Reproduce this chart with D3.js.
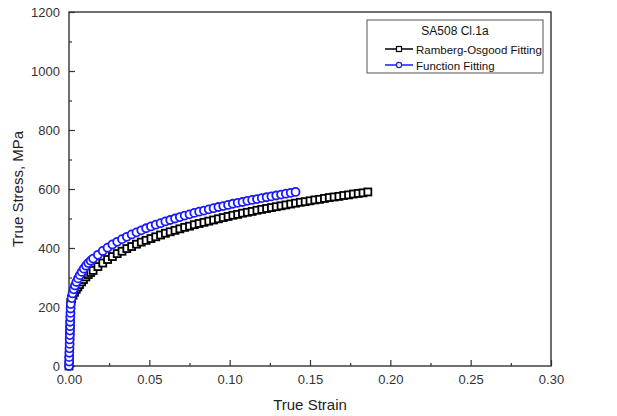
<!DOCTYPE html>
<html>
<head>
<meta charset="utf-8">
<script src="https://cdn.jsdelivr.net/npm/d3@7"></script>
<style>
  body { margin: 0; background: #fff; }
  text { font-family: "Liberation Sans", Arial, sans-serif; }
</style>
</head>
<body>
<script>
// Ramberg-Osgood fitting (black squares)
var roStrain = [0, 0.0001, 0.0002, 0.0003, 0.0004, 0.0005, 0.0006, 0.0007, 0.0008, 0.0009, 0.0010, 0.0011,
  0.0016, 0.0025, 0.0035, 0.0045, 0.0055, 0.0065, 0.0078, 0.009, 0.0105, 0.012, 0.0135, 0.015,
  0.018, 0.021, 0.024, 0.027, 0.030, 0.033, 0.036, 0.039, 0.042, 0.045, 0.048, 0.051, 0.054, 0.057,
  0.060, 0.063, 0.066, 0.069, 0.072, 0.075, 0.078, 0.081, 0.084, 0.087, 0.090, 0.093, 0.096, 0.099,
  0.102, 0.105, 0.108, 0.111, 0.114, 0.117, 0.120, 0.123, 0.126, 0.129, 0.132, 0.135, 0.138, 0.141,
  0.144, 0.147, 0.150, 0.153, 0.156, 0.159, 0.162, 0.165, 0.168, 0.171, 0.174, 0.177, 0.180, 0.183, 0.186];
var roStress = [0, 20, 40, 60, 80, 100, 120, 140, 160, 180, 200, 215,
  228, 240, 250, 260, 268, 276, 285, 293, 302, 310, 317, 324,
  337, 349, 361, 371, 381, 389, 398, 405, 413, 420, 426, 432, 438, 444,
  450, 455, 460, 465, 470, 474, 479, 483, 487, 491, 495, 499, 503, 507,
  511, 514, 518, 521, 524, 528, 531, 534, 537, 540, 543, 546, 549, 552,
  555, 557, 560, 563, 565, 568, 571, 573, 575, 578, 580, 583, 585, 587, 590];

// Function fitting (blue circles)
var fnStrain = [0, 0.0001, 0.0001, 0.0002, 0.0003, 0.0004, 0.0004, 0.0005, 0.0006, 0.0007, 0.0007, 0.0008, 0.0009, 0.0010, 0.0011,
  0.0016, 0.0022, 0.0029, 0.0037, 0.0046, 0.0056, 0.0067, 0.0079, 0.0092, 0.0106, 0.012, 0.0135, 0.015,
  0.018, 0.021, 0.024, 0.027, 0.030, 0.033, 0.036, 0.039, 0.042, 0.045, 0.048, 0.051, 0.054, 0.057,
  0.060, 0.063, 0.066, 0.069, 0.072, 0.075, 0.078, 0.081, 0.084, 0.087, 0.090, 0.093, 0.096, 0.099,
  0.102, 0.105, 0.108, 0.111, 0.114, 0.117, 0.120, 0.123, 0.126, 0.129, 0.132, 0.135, 0.138, 0.141];
var fnStress = [0, 15, 30, 45, 60, 75, 90, 105, 120, 135, 150, 165, 180, 195, 210,
  230, 246, 260, 273, 285, 297, 308, 319, 330, 340, 349, 357, 364,
  377, 390, 401, 412, 421, 430, 438, 446, 453, 460, 467, 473, 479, 484,
  490, 495, 500, 505, 510, 514, 519, 523, 527, 531, 535, 539, 542, 546,
  550, 553, 556, 560, 563, 566, 569, 572, 575, 578, 581, 584, 587, 590];

var xTicks = [0, 0.05, 0.10, 0.15, 0.20, 0.25, 0.30];
var yTicks = [0, 200, 400, 600, 800, 1000, 1200];
var legendTitle = "SA508 Cl.1a";
var seriesNames = ["Ramberg-Osgood Fitting", "Function Fitting"];

var W = 617, H = 416;
var m = { left: 69, right: 66, top: 12, bottom: 50 };
var w = W - m.left - m.right, h = H - m.top - m.bottom;

var svg = d3.select("body").append("svg")
  .attr("width", W).attr("height", H);

var x = d3.scaleLinear().domain([0, 0.30]).range([0, w]);
var y = d3.scaleLinear().domain([0, 1200]).range([h, 0]);

var g = svg.append("g").attr("transform", "translate(" + m.left + "," + m.top + ")");

// frame
g.append("rect").attr("width", w).attr("height", h)
  .attr("fill", "none").attr("stroke", "#333").attr("stroke-width", 1.4);

// bottom axis: major + minor ticks pointing inward
var xMinor = d3.range(0.025, 0.3, 0.05);
g.append("g").attr("transform", "translate(0," + h + ")")
  .call(d3.axisBottom(x).tickValues(xMinor).tickSize(-3).tickFormat(""))
  .call(function(s) { s.select(".domain").remove(); });
var xa = g.append("g").attr("transform", "translate(0," + h + ")")
  .call(d3.axisBottom(x).tickValues(xTicks).tickSize(-6).tickPadding(9).tickFormat(d3.format(".2f")));
xa.select(".domain").remove();

var yMinor = d3.range(100, 1200, 200);
g.append("g")
  .call(d3.axisLeft(y).tickValues(yMinor).tickSize(-3).tickFormat(""))
  .call(function(s) { s.select(".domain").remove(); });
var ya = g.append("g")
  .call(d3.axisLeft(y).tickValues(yTicks).tickSize(-6).tickPadding(9).tickFormat(d3.format("d")));
ya.select(".domain").remove();

g.selectAll(".tick line").attr("stroke", "#333").attr("stroke-width", 1.2);
g.selectAll(".tick text").attr("font-size", "13px").attr("fill", "#333")
  .attr("font-family", "Liberation Sans, Arial, sans-serif");

// axis titles
svg.append("text").attr("x", m.left + w / 2).attr("y", 410)
  .attr("text-anchor", "middle").attr("font-size", "15px").attr("fill", "#222")
  .text("True Strain");
svg.append("text").attr("transform", "translate(23," + (m.top + h / 2) + ") rotate(-90)")
  .attr("text-anchor", "middle").attr("font-size", "15px").attr("fill", "#222")
  .text("True Stress, MPa");

var line = d3.line().x(function(d) { return x(d[0]); }).y(function(d) { return y(d[1]); });
var roData = d3.zip(roStrain, roStress);
var fnData = d3.zip(fnStrain, fnStress);

// Ramberg-Osgood series
g.append("path").datum(roData).attr("d", line)
  .attr("fill", "none").attr("stroke", "#000").attr("stroke-width", 1.5);
g.selectAll(".sq").data(roData).enter().append("rect")
  .attr("class", "sq")
  .attr("x", function(d) { return x(d[0]) - 3.5; })
  .attr("y", function(d) { return y(d[1]) - 3.5; })
  .attr("width", 7).attr("height", 7)
  .attr("fill", "#fff").attr("stroke", "#000").attr("stroke-width", 1.8);

// Function fitting series
g.append("path").datum(fnData).attr("d", line)
  .attr("fill", "none").attr("stroke", "#1a1aff").attr("stroke-width", 1.5);
g.selectAll(".ci").data(fnData).enter().append("circle")
  .attr("class", "ci")
  .attr("cx", function(d) { return x(d[0]); })
  .attr("cy", function(d) { return y(d[1]); })
  .attr("r", 4)
  .attr("fill", "#fff").attr("stroke", "#1a1aff").attr("stroke-width", 1.8);

// legend
var lg = svg.append("g").attr("transform", "translate(367,20)");
lg.append("rect").attr("width", 176).attr("height", 53)
  .attr("fill", "#fff").attr("stroke", "#555").attr("stroke-width", 1);
lg.append("text").attr("x", 88).attr("y", 15).attr("text-anchor", "middle")
  .attr("font-size", "12px").attr("fill", "#111").text(legendTitle);
var colors = ["#000", "#1a1aff"];
seriesNames.forEach(function(name, i) {
  var yy = 29 + i * 16;
  lg.append("line").attr("x1", 18).attr("x2", 46).attr("y1", yy).attr("y2", yy)
    .attr("stroke", colors[i]).attr("stroke-width", 1.5);
  if (i === 0) {
    lg.append("rect").attr("x", 29.5).attr("y", yy - 2.5).attr("width", 5).attr("height", 5)
      .attr("fill", "#fff").attr("stroke", colors[i]).attr("stroke-width", 1.2);
  } else {
    lg.append("circle").attr("cx", 32).attr("cy", yy).attr("r", 2.6)
      .attr("fill", "#fff").attr("stroke", colors[i]).attr("stroke-width", 1.2);
  }
  lg.append("text").attr("x", 49).attr("y", yy + 4.5)
    .attr("font-size", "11.5px").attr("fill", "#111").text(name);
});
</script>
</body>
</html>
